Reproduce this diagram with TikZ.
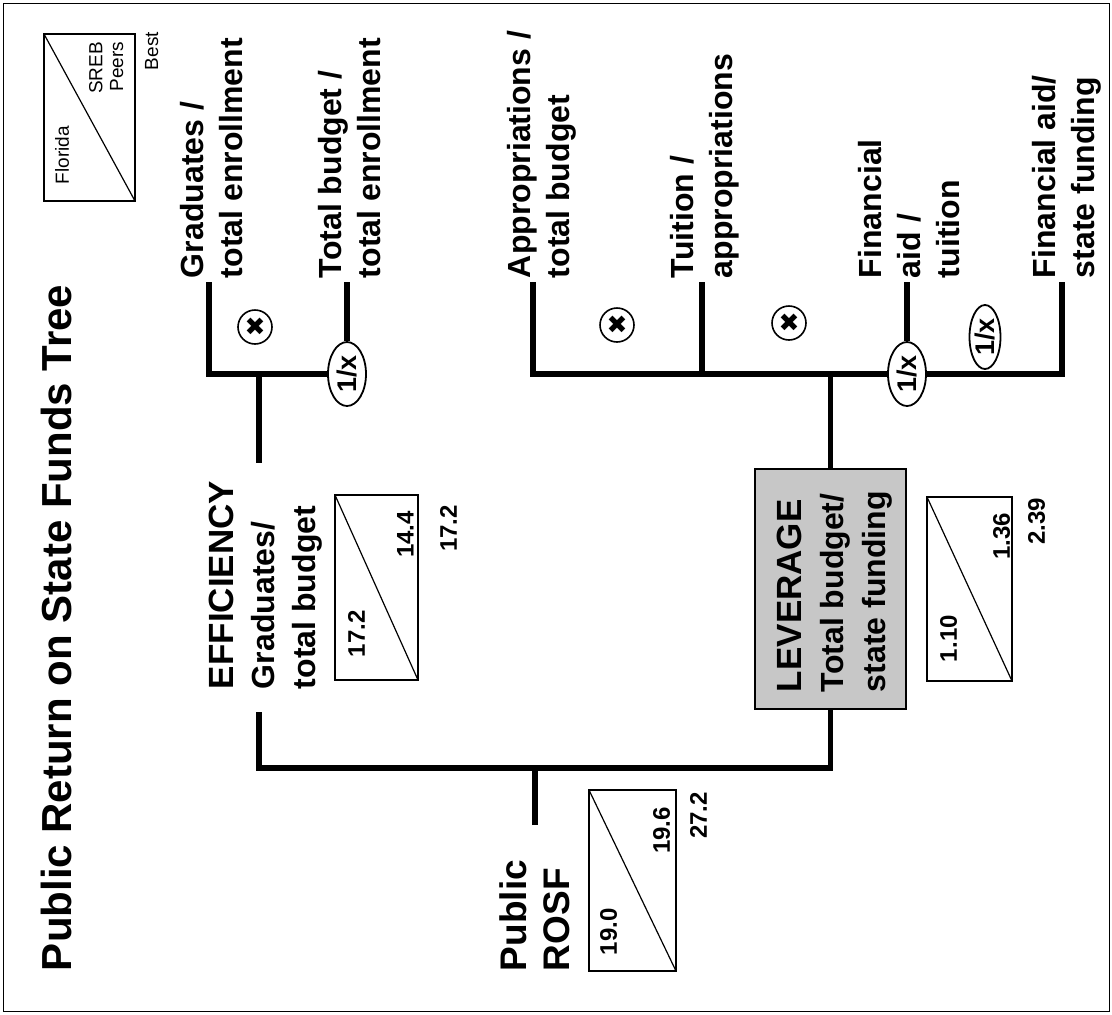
\documentclass[tikz,border=0pt]{standalone}
\usepackage{fontspec}
\setmainfont{Liberation Sans}
\newfontfamily\symfont{DejaVu Sans}
\usetikzlibrary{shapes.geometric}
\begin{document}
\begin{tikzpicture}[x=1pt,y=-1pt,
  lbl/.style={inner sep=0pt, outer sep=0pt, rotate=90, align=left, font=\bfseries\fontsize{32}{39}\selectfont},
  num/.style={inner sep=0pt, outer sep=0pt, rotate=90, font=\bfseries\fontsize{24}{28}\selectfont},
  leg/.style={inner sep=0pt, outer sep=0pt, rotate=90, font=\fontsize{19}{22}\selectfont},
  conn/.style={line width=5.5pt, line join=miter},
  vbox/.style={line width=1.8pt},
  diag/.style={line width=1.2pt},
  mult/.style={circle, draw, line width=1.6pt, minimum size=34pt, inner sep=0pt, fill=white, font=\symfont\fontsize{25}{25}\selectfont},
  inv/.style={ellipse, draw, line width=1.8pt, inner sep=0pt, fill=white, rotate=90, font=\bfseries\fontsize{27}{30}\selectfont, minimum width=64pt, minimum height=38pt},
  levbox/.style={draw, line width=1.8pt, fill=black!22, rotate=90, inner sep=0pt, minimum width=240pt, minimum height=151pt},
]
\useasboundingbox (0,0) rectangle (1112,1015);
\draw[line width=1pt] (3,3) rectangle (1109,1011);

% title
\node[lbl, anchor=north west, font=\bfseries\fontsize{42}{50}\selectfont] (title) at (41,971) {Public Return on State Funds Tree};

% legend
\draw[line width=1.3pt] (44,34) rectangle (135,201);
\draw[diag] (44,34) -- (135,201);
\node[leg, anchor=north west] (lflo) at (55,184) {Florida};
\node[leg, anchor=north east] (lsreb) at (89,42) {SREB};
\node[leg, anchor=north east] (lpeer) at (110,42) {Peers};
\node[leg, anchor=north east] (lbest) at (145,32) {Best};

% leaf labels
\node[lbl, anchor=north west] (ge) at (180,278) {Graduates /\\total enrollment};
\node[lbl, anchor=north west] (te) at (318,278) {Total budget /\\total enrollment};
\node[lbl, anchor=north west] (ab) at (507,278) {Appropriations /\\total budget};
\node[lbl, anchor=north west] (ta) at (670,278) {Tuition /\\appropriations};
\node[lbl, anchor=north west] (fat) at (858,278) {Financial\\aid /\\tuition};
\node[lbl, anchor=north west] (fas) at (1032,278) {Financial aid/\\state funding};

% efficiency
\node[lbl, anchor=north west, font=\bfseries\fontsize{32}{41}\selectfont] (eff) at (209,689) {{\fontsize{35}{41}\selectfont EFFICIENCY}\\Graduates/\\total budget};

% leverage
\node[levbox] (lev) at (830.5,589) {};
\node[lbl, anchor=north west, font=\bfseries\fontsize{32}{42}\selectfont] (levt) at (777,692) {{\fontsize{35}{42}\selectfont LEVERAGE}\\Total budget/\\state funding};

% rosf
\node[lbl, anchor=north west, font=\bfseries\fontsize{37}{43}\selectfont] (rosf) at (500,971) {Public\\ROSF};

% operators
\node[mult] (m1) at (255,327) {✖};
\node[mult] (m2) at (617,325) {✖};
\node[mult] (m3) at (789,323) {✖};
\node[inv] (i1) at (347,374) {1/x};
\node[inv] (i2) at (907,374) {1/x};
\node[inv, minimum height=31pt] (i3) at (985,337) {1/x};

% connector coordinates
\coordinate (ga) at (209,282);
\coordinate (tb) at (347,282);
\coordinate (ej) at (259,374);
\coordinate (et) at (259,463);
\coordinate (eb) at (259,712);
\coordinate (bj) at (259,768);
\coordinate (aa) at (533,282);
\coordinate (tt) at (702,282);
\coordinate (fa) at (907,282);
\coordinate (fs) at (1062,282);
\coordinate (rs) at (535,825);

\draw[conn] (ga) |- (i1);
\draw[conn] (tb) -- (i1);
\draw[conn] (ej) -- (et);
\draw[conn] (aa) |- (i2);
\draw[conn] (i2) -| (fs);
\draw[conn] (tt) -- (tt |- i2);
\draw[conn] (fa) -- (i2);
\draw[conn] (lev.east |- i2) -- (lev.east);
\draw[conn] (eb) -- (bj) -| (lev.west);
\draw[conn] (rs) -- (rs |- bj);

% value boxes
\draw[vbox] (335,495) rectangle (418,680);
\draw[diag] (335,495) -- (418,680);
\node[num, anchor=north west] (ev1) at (348,657) {17.2};
\node[num, anchor=north east] (ev2) at (397,511) {14.4};
\node[num, anchor=north east] (ev3) at (440,505) {17.2};

\draw[vbox] (589,790) rectangle (676,971);
\draw[diag] (589,790) -- (676,971);
\node[num, anchor=north west] (rv1) at (600,955) {19.0};
\node[num, anchor=north east] (rv2) at (653,807) {19.6};
\node[num, anchor=north east] (rv3) at (690,792) {27.2};

\draw[vbox] (927,497) rectangle (1012,681);
\draw[diag] (927,497) -- (1012,681);
\node[num, anchor=north west] (lv1) at (940,662) {1.10};
\node[num, anchor=north east] (lv2) at (993,513) {1.36};
\node[num, anchor=north east] (lv3) at (1028,498) {2.39};
\end{tikzpicture}
\end{document}
